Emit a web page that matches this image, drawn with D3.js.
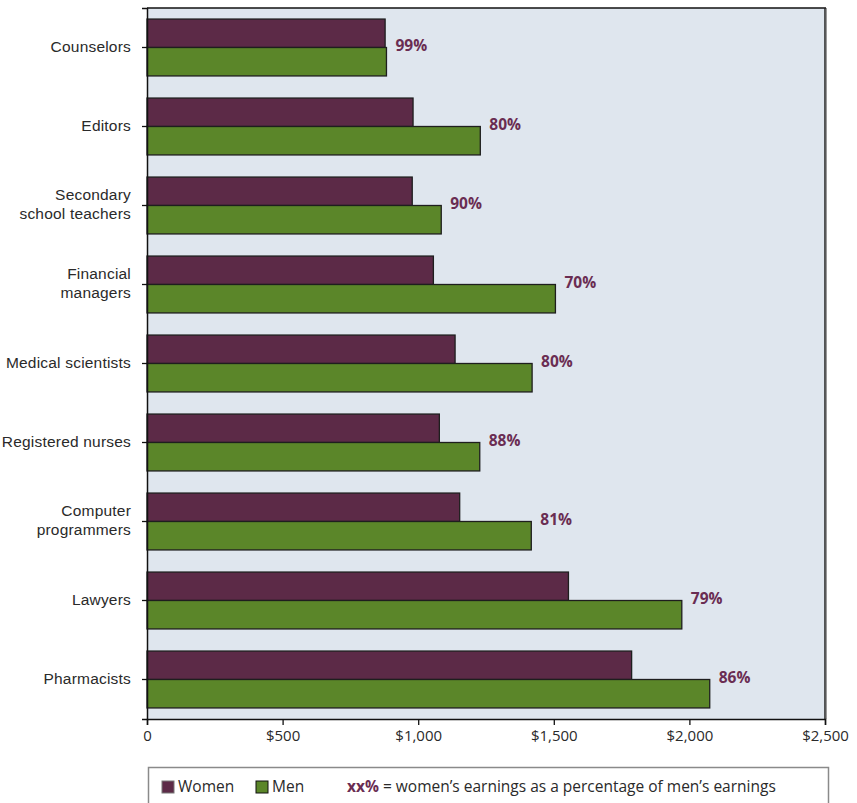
<!DOCTYPE html>
<html>
<head>
<meta charset="utf-8">
<script src="https://cdn.jsdelivr.net/npm/d3@7"></script>
<style>
  html, body { margin: 0; padding: 0; background: #fff; }
  svg { display: block; font-family: "Open Sans", Lato, sans-serif; }
</style>
</head>
<body>
<svg id="chart" width="857" height="803"></svg>
<script>
// Median weekly earnings by occupation, women vs men
const occupations = [
  ["Counselors"],
  ["Editors"],
  ["Secondary", "school teachers"],
  ["Financial", "managers"],
  ["Medical scientists"],
  ["Registered nurses"],
  ["Computer", "programmers"],
  ["Lawyers"],
  ["Pharmacists"]
];
const women = [878, 981, 978, 1056, 1136, 1078, 1153, 1554, 1787];
const men   = [883, 1229, 1085, 1506, 1420, 1227, 1417, 1972, 2075];
const ratioLabels = ["99%", "80%", "90%", "70%", "80%", "88%", "81%", "79%", "86%"];
const xTicks = [0, 500, 1000, 1500, 2000, 2500];

const colWomen = "#5c2a47";
const colMen = "#5b8629";
const colLabel = "#6a2d52";
const textCol = "#2a2a2a";

const svg = d3.select("#chart");
const plotL = 147, plotR = 825, plotT = 8, plotB = 719;

const x = d3.scaleLinear().domain([0, 2500]).range([plotL, plotR]);
const idx = d3.range(occupations.length);
const y = d3.scaleBand().domain(idx).range([plotT, plotB]).paddingInner(0.28).paddingOuter(0.14);
const half = y.bandwidth() / 2;

// plot background
svg.append("rect")
  .attr("x", plotL).attr("y", plotT)
  .attr("width", plotR - plotL).attr("height", plotB - plotT)
  .attr("fill", "#dfe6ee");

// frame: top and right edges
svg.append("line").attr("x1", plotL).attr("x2", plotR + 1).attr("y1", plotT).attr("y2", plotT)
  .attr("stroke", "#111").attr("stroke-width", 1.5);
svg.append("line").attr("x1", plotR).attr("x2", plotR).attr("y1", plotT).attr("y2", plotB)
  .attr("stroke", "#222").attr("stroke-width", 1.5);
svg.append("line").attr("x1", plotR + 1.5).attr("x2", plotR + 1.5).attr("y1", plotT).attr("y2", plotB)
  .attr("stroke", "#999").attr("stroke-width", 1);

// bars
const g = svg.append("g");
g.selectAll("rect.women").data(idx).join("rect")
  .attr("class", "women")
  .attr("x", x(0)).attr("y", i => y(i))
  .attr("width", i => x(women[i]) - x(0)).attr("height", half)
  .attr("fill", colWomen).attr("stroke", "#1e1e1e").attr("stroke-width", 1.3);
g.selectAll("rect.men").data(idx).join("rect")
  .attr("class", "men")
  .attr("x", x(0)).attr("y", i => y(i) + half)
  .attr("width", i => x(men[i]) - x(0)).attr("height", half)
  .attr("fill", colMen).attr("stroke", "#1e1e1e").attr("stroke-width", 1.3);

// ratio labels
g.selectAll("text.ratio").data(idx).join("text")
  .attr("class", "ratio")
  .attr("x", i => x(men[i]) + 9)
  .attr("y", i => y(i) + half - 2)
  .attr("dy", "0.35em")
  .attr("fill", colLabel)
  .attr("font-size", 15.5).attr("font-weight", 700)
  .text(i => ratioLabels[i]);

// y axis
const yAxis = svg.append("g").attr("transform", `translate(${plotL},0)`)
  .call(d3.axisLeft(y).tickSize(5).tickFormat(""));
yAxis.select(".domain").attr("stroke", "#111").attr("stroke-width", 1.5);
yAxis.selectAll(".tick line").attr("stroke", "#111").attr("stroke-width", 1.3);
yAxis.selectAll(".tick").each(function (i) {
  const lines = occupations[i];
  const t = d3.select(this).append("text")
    .attr("x", -16).attr("fill", textCol)
    .attr("font-size", 15.5).attr("letter-spacing", 0.2).attr("text-anchor", "end");
  const lh = 19;
  lines.forEach((s, k) => {
    t.append("tspan").attr("x", -16)
      .attr("y", (k - (lines.length - 1) / 2) * lh - 1)
      .attr("dy", "0.35em").text(s);
  });
});

// x axis
const xAxis = svg.append("g").attr("transform", `translate(0,${plotB})`)
  .call(d3.axisBottom(x).tickValues(xTicks).tickSize(6).tickPadding(5)
    .tickFormat(d => d === 0 ? "0" : "$" + d3.format(",")(d)));
xAxis.select(".domain").attr("stroke", "#111").attr("stroke-width", 1.5);
xAxis.selectAll(".tick line").attr("stroke", "#111").attr("stroke-width", 1.3);
xAxis.selectAll(".tick text").attr("font-size", 15).attr("fill", textCol)
  .attr("font-family", "'Open Sans', Lato, sans-serif");

// legend box
const lg = svg.append("g");
lg.append("rect").attr("x", 148.5).attr("y", 767.5).attr("width", 680).attr("height", 50)
  .attr("fill", "#fff").attr("stroke", "#8a8a8a").attr("stroke-width", 1.5);
const items = [
  { label: "Women", color: colWomen, sx: 162, tx: 178 },
  { label: "Men", color: colMen, sx: 256, tx: 272 }
];
items.forEach(it => {
  lg.append("rect").attr("x", it.sx).attr("y", 781).attr("width", 12).attr("height", 12)
    .attr("fill", it.color).attr("stroke", it.label === "Men" ? "#111" : "#777").attr("stroke-width", 1);
  lg.append("text").attr("x", it.tx).attr("y", 787).attr("dy", "0.35em")
    .attr("font-size", 15.5).attr("fill", textCol).text(it.label);
});
const note = lg.append("text").attr("x", 347).attr("y", 787).attr("dy", "0.35em")
  .attr("font-size", 15.5).attr("fill", textCol);
note.append("tspan").attr("font-weight", 700).attr("fill", colLabel).text("xx%");
note.append("tspan").text(" = women\u2019s earnings as a percentage of men\u2019s earnings");
</script>
</body>
</html>
